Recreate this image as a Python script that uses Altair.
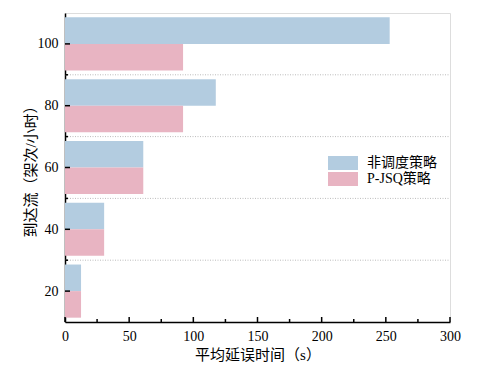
import altair as alt
import pandas as pd

categories = [20, 40, 60, 80, 100]
unscheduled = [12.5, 30.5, 61, 117.5, 253]
pjsq = [12.5, 30.5, 61, 92, 92]
series_names = ["非调度策略", "P-JSQ策略"]
colors = ["#b3cce0", "#e8b4c2"]
y_major = [20, 40, 60, 80, 100]
y_minor = [30, 50, 70, 90]
x_major = [0, 50, 100, 150, 200, 250, 300]
x_minor = [25, 75, 125, 175, 225, 275]

rows = []
for c, a, b in zip(categories, unscheduled, pjsq):
    rows.append({"cat": c, "series": series_names[0], "value": a, "lo": c, "hi": c + 8.6})
    rows.append({"cat": c, "series": series_names[1], "value": b, "lo": c - 8.6, "hi": c})
df = pd.DataFrame(rows)

FONT = "Liberation Serif, Noto Sans CJK SC"
xscale = alt.Scale(domain=[0, 300], nice=False, zero=True)
yscale = alt.Scale(domain=[10, 110], nice=False, zero=False)

bars = alt.Chart(df).mark_bar(opacity=1).encode(
    x=alt.X("value:Q", scale=xscale, axis=alt.Axis(
        values=x_major, title="平均延误时间（s）", tickSize=0, labelPadding=7,
        domainColor="black", domainWidth=1.5, grid=False, format="d", labelFlush=False,
        labelFont=FONT, labelFontSize=14, titleFont=FONT, titleFontSize=15,
        titleFontWeight="normal", titlePadding=4, labelColor="black", titleColor="black")),
    x2=alt.value(0),
    y=alt.Y("lo:Q", scale=yscale, axis=alt.Axis(
        values=y_major, title="到达流（架次/小时）", tickSize=0, labelPadding=7,
        domainColor="black", domainWidth=1.5, grid=False, labelFlush=False,
        labelFont=FONT, labelFontSize=14, titleFont=FONT, titleFontSize=15,
        titleFontWeight="normal", titlePadding=-1, labelColor="black", titleColor="black")),
    y2="hi:Q",
    color=alt.Color("series:N", scale=alt.Scale(domain=series_names, range=colors),
                    legend=alt.Legend(title=None, orient="none", legendX=271, legendY=143,
                                      symbolType="M-2.14,-1H2.14V1H-2.14Z", symbolSize=196,
                                      symbolStrokeWidth=0, symbolOpacity=1,
                                      labelFont=FONT, labelFontSize=14, labelColor="black",
                                      rowPadding=2, labelOffset=17)),
)

grid = alt.Chart(pd.DataFrame({"y": y_minor})).mark_rule(
    color="#bbbbbb", strokeDash=[1, 1.5], strokeWidth=1).encode(
    y=alt.Y("y:Q", scale=yscale), x=alt.value(0), x2=alt.value(385))

ytick_major = alt.Chart(pd.DataFrame({"y": y_major})).mark_rule(color="black", strokeWidth=1.5).encode(
    y=alt.Y("y:Q", scale=yscale), x=alt.value(0), x2=alt.value(5))
ytick_minor = alt.Chart(pd.DataFrame({"y": y_minor})).mark_rule(color="black", strokeWidth=1.5).encode(
    y=alt.Y("y:Q", scale=yscale), x=alt.value(0), x2=alt.value(3))
xtick_major = alt.Chart(pd.DataFrame({"x": x_major})).mark_rule(color="black", strokeWidth=1.5).encode(
    x=alt.X("x:Q", scale=xscale), y=alt.value(309), y2=alt.value(304))
xtick_minor = alt.Chart(pd.DataFrame({"x": x_minor})).mark_rule(color="black", strokeWidth=1.5).encode(
    x=alt.X("x:Q", scale=xscale), y=alt.value(309), y2=alt.value(306))

chart = alt.layer(grid, bars, ytick_major, ytick_minor, xtick_major, xtick_minor).properties(
    width=385, height=309,
    autosize=alt.AutoSizeParams(type="none"),
    padding={"left": 57, "top": 5, "right": 34, "bottom": 44},
).configure_view(stroke="#333333", strokeWidth=1.2).configure(background="white")

chart.save("out.html", embed_options={"renderer": "svg", "actions": False})
